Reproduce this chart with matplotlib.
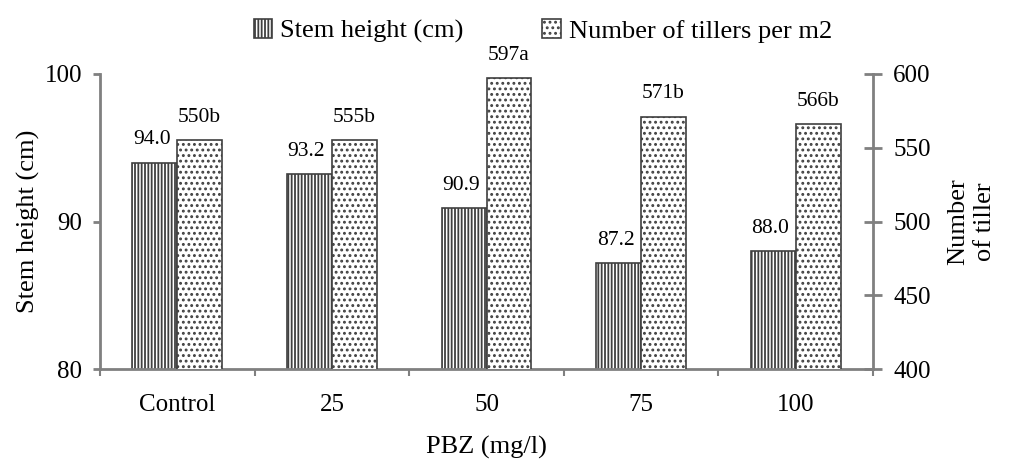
import matplotlib.pyplot as plt
import numpy as np

categories = ["Control", "25", "50", "75", "100"]
stem_height = [94.0, 93.2, 90.9, 87.2, 88.0]
tillers = [555, 555, 597, 571, 566]
tiller_labels = ["550b", "555b", "597a", "571b", "566b"]

plt.rcParams['font.family'] = ['Liberation Serif', 'DejaVu Serif']
plt.rcParams['hatch.linewidth'] = 1.3
plt.rcParams['hatch.color'] = 'black'

fig = plt.figure(figsize=(10.09, 4.59), dpi=100)
ax = fig.add_axes([100/1009, 1-369/459, 773/1009, 295/459])
ax2 = ax.twinx()

x = np.arange(len(categories))
w = 0.29
gray = '#808080'

b1 = ax.bar(x - w/2, stem_height, w, color='white', edgecolor='#404040', hatch='|||||', linewidth=1.2, zorder=2)
b2 = ax2.bar(x + w/2, tillers, w, color='white', edgecolor='#404040', hatch='...', linewidth=1.2, zorder=2)

ax.set_ylim(80, 100)
ax2.set_ylim(400, 600)
ax.set_xlim(-0.5, 4.5)
ax.set_yticks([80, 90, 100])
ax2.set_yticks([400, 450, 500, 550, 600])

for xi, v in zip(x, stem_height):
    ax.text(xi - w/2 - 0.02, v + 0.9, f"{v:.1f}", ha='center', va='bottom', fontsize=15.5)
for xi, v, l in zip(x, tillers, tiller_labels):
    ax2.text(xi + w/2, v + 9, l, ha='center', va='bottom', fontsize=15.5)

ax.set_xticks(x)
ax.set_xticklabels(categories, fontsize=18)
ax.tick_params(axis='x', length=0, pad=18)
ax.set_xticks(np.arange(-0.5, 5, 1), minor=True)
ax.tick_params(axis='x', which='minor', length=5, width=1.5, color=gray, direction='out')

for a in (ax, ax2):
    for s in a.spines.values():
        s.set_visible(False)
for s in (ax.spines['left'], ax.spines['bottom'], ax2.spines['right']):
    s.set_visible(True)
    s.set_color(gray)
    s.set_linewidth(2)

ax.tick_params(axis='y', labelsize=18, length=5, width=2, color=gray, direction='out', pad=8)
ax2.tick_params(axis='y', labelsize=18, length=13, width=2, color=gray, direction='inout', pad=8)

ax.set_ylabel("Stem height (cm)", fontsize=19, labelpad=3)
ax2.set_ylabel("Number\nof tiller", fontsize=19, labelpad=12, rotation=90, linespacing=1.25)
ax.set_xlabel("PBZ (mg/l)", fontsize=19, labelpad=14)

fig.legend([b1, b2], ["Stem height (cm)", "Number of tillers per m2"], loc='upper center',
           bbox_to_anchor=(0.538, 1.01), ncol=2, frameon=False, fontsize=19,
           handlelength=0.7, handleheight=0.7, columnspacing=3.0, handletextpad=0.3)

fig.savefig("out.png", dpi=100)
